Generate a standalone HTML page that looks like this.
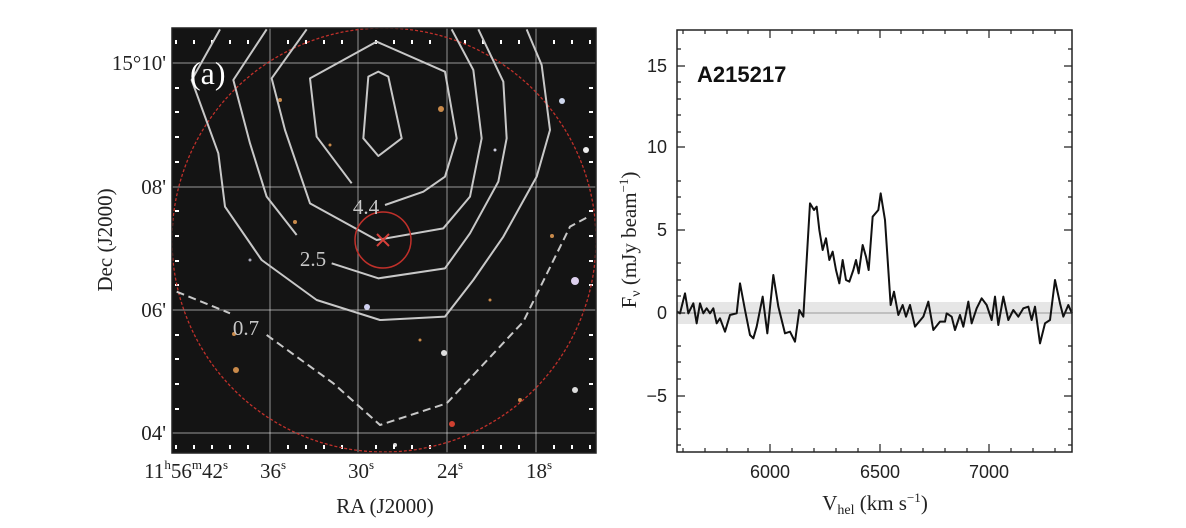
<!DOCTYPE html>
<html><head><meta charset="utf-8"><style>
body{margin:0;background:#fff;}
svg{display:block;}
.s{font-family:"Liberation Serif",serif;fill:#222;}
.n{font-family:"Liberation Sans",sans-serif;fill:#222;}
</style></head><body>
<svg width="1186" height="528" viewBox="0 0 1186 528" xmlns="http://www.w3.org/2000/svg">
<defs><clipPath id="cl"><rect x="172" y="28" width="424" height="425"/></clipPath></defs>
<rect x="172" y="28" width="424" height="425" fill="#141414"/>
<g clip-path="url(#cl)">
<g fill="#c98a4a">
<circle cx="441" cy="109" r="3"/><circle cx="452" cy="424" r="3" fill="#d04030"/><circle cx="444" cy="353" r="3" fill="#ddd"/><circle cx="562" cy="101" r="3" fill="#cfd8ee"/><circle cx="575" cy="281" r="4" fill="#ddd0ee"/><circle cx="586" cy="150" r="3" fill="#eee"/><circle cx="367" cy="307" r="3" fill="#cfd0ef"/><circle cx="236" cy="370" r="3"/><circle cx="234" cy="334" r="2"/><circle cx="295" cy="222" r="2"/><circle cx="575" cy="390" r="3" fill="#ddd"/><circle cx="552" cy="236" r="2"/><circle cx="280" cy="100" r="2"/><circle cx="330" cy="145" r="1.5"/><circle cx="495" cy="150" r="1.5" fill="#ccd"/><circle cx="520" cy="400" r="2"/><circle cx="395" cy="445" r="2" fill="#ddd"/><circle cx="420" cy="340" r="1.5"/><circle cx="490" cy="300" r="1.5"/><circle cx="250" cy="260" r="1.5" fill="#aab"/>
</g>
<g stroke="rgba(255,255,255,0.45)" stroke-width="1.2">
<line x1="270" y1="28" x2="270" y2="453"/><line x1="358" y1="28" x2="358" y2="453"/><line x1="447" y1="28" x2="447" y2="453"/><line x1="536" y1="28" x2="536" y2="453"/>
<line x1="172" y1="63" x2="596" y2="63"/><line x1="172" y1="187" x2="596" y2="187"/><line x1="172" y1="310" x2="596" y2="310"/><line x1="172" y1="433" x2="596" y2="433"/>
</g>
<g stroke="#fff" stroke-width="2">
<path d="M176,40v4M194,40v4M212,40v4M230,40v4M248,40v4M288,40v4M306,40v4M324,40v4M342,40v4M376,40v4M394,40v4M412,40v4M430,40v4M465,40v4M483,40v4M501,40v4M519,40v4M554,40v4M572,40v4M590,40v4"/>
<path d="M176,445v4M194,445v4M212,445v4M230,445v4M248,445v4M288,445v4M306,445v4M324,445v4M342,445v4M376,445v4M394,445v4M412,445v4M430,445v4M465,445v4M483,445v4M501,445v4M519,445v4M554,445v4M572,445v4M590,445v4"/>
<path d="M175,88h4M175,112h4M175,137h4M175,162h4M175,211h4M175,236h4M175,261h4M175,285h4M175,335h4M175,359h4M175,384h4M175,409h4"/>
<path d="M589,88h4M589,112h4M589,137h4M589,162h4M589,211h4M589,236h4M589,261h4M589,285h4M589,335h4M589,359h4M589,384h4M589,409h4"/>
</g>
<circle cx="384" cy="240" r="212" fill="none" stroke="#c0302a" stroke-width="1.3" stroke-dasharray="3,2"/>
<g transform="translate(170,20) scale(0.33333)" fill="none" stroke="#c8c8c8" stroke-width="6" stroke-linejoin="round">
<path d="M595,170 L625,155 L655,170 L695,355 L625,408 L580,355 Z"/>
<path d="M545,490 L440,350 L420,175 L620,65 L825,155 L860,355 L825,470 L760,515 L645,555"/>
<path d="M410,28 L305,175 L345,330 L420,550 L620,660 L820,625 L900,530 L935,355 L910,150 L845,28"/>
<path d="M290,28 L190,180 L240,370 L290,530 L380,645"/>
<path d="M485,730 L625,775 L825,745 L900,640 L985,485 L1010,355 L1000,185 L925,28"/>
<path d="M150,28 L65,180 L145,400 L165,560 L275,720 L440,840 L630,900 L825,890 L910,780 L1000,650 L1100,470 L1140,330 L1115,135 L1070,28"/>
<path d="M20,815 L180,880 M290,945 L490,1090 L630,1215 L830,1150 L1060,905 L1200,620 L1255,590" stroke-dasharray="24,14"/>
</g>
<circle cx="383" cy="240" r="28" fill="none" stroke="#c0302a" stroke-width="1.5"/>
<path d="M377,234 L389,246 M389,234 L377,246" stroke="#d8403a" stroke-width="2"/>
<text x="366" y="214" class="s" style="fill:#c8c8c8" font-size="21" text-anchor="middle">4.4</text>
<text x="313" y="266" class="s" style="fill:#c8c8c8" font-size="21" text-anchor="middle">2.5</text>
<text x="246" y="335" class="s" style="fill:#c8c8c8" font-size="21" text-anchor="middle">0.7</text>
<text x="190" y="84" class="s" style="fill:#fff" font-size="32">(a)</text>
</g>
<rect x="172" y="28" width="424" height="425" fill="none" stroke="#222" stroke-width="1.5"/>
<text class="s" font-size="21" text-anchor="end"><tspan x="166" y="70">15°10'</tspan><tspan x="166" y="194">08'</tspan><tspan x="166" y="317">06'</tspan><tspan x="166" y="440">04'</tspan></text>
<text class="s" font-size="21" x="228" y="478" text-anchor="end">11<tspan font-size="13" dy="-9">h</tspan><tspan dy="9">56</tspan><tspan font-size="13" dy="-9">m</tspan><tspan dy="9">42</tspan><tspan font-size="13" dy="-9">s</tspan></text>
<text class="s" font-size="21" x="273" y="478" text-anchor="middle">36<tspan font-size="13" dy="-9">s</tspan></text>
<text class="s" font-size="21" x="361" y="478" text-anchor="middle">30<tspan font-size="13" dy="-9">s</tspan></text>
<text class="s" font-size="21" x="450" y="478" text-anchor="middle">24<tspan font-size="13" dy="-9">s</tspan></text>
<text class="s" font-size="21" x="539" y="478" text-anchor="middle">18<tspan font-size="13" dy="-9">s</tspan></text>
<text x="385" y="513" class="s" font-size="21" text-anchor="middle">RA (J2000)</text>
<text transform="translate(112,240) rotate(-90)" class="s" font-size="21" text-anchor="middle">Dec (J2000)</text>

<!-- right panel -->
<rect x="677" y="302" width="395" height="22" fill="#e6e6e6"/>
<line x1="677" y1="313" x2="1072" y2="313" stroke="#999" stroke-width="1"/>
<g transform="translate(670,180) scale(0.33333)" fill="none" stroke="#111" stroke-width="6" stroke-linejoin="round">
<path d="M21,395 L30,400 L45,340 L55,400 L70,370 L80,430 L90,370 L100,400 L110,385 L120,400 L130,385 L140,430 L150,415 L165,455 L180,405 L200,400 L210,310 L225,390 L240,465 L250,475 L260,440 L278,350 L292,460 L310,285 L325,380 L345,460 L360,455 L375,485 L388,390 L400,410 L420,70 L432,90 L440,80 L448,150 L458,210 L468,175 L478,240 L488,215 L498,270 L508,310 L518,240 L528,300 L538,305 L550,270 L558,240 L566,280 L578,195 L588,230 L596,270 L608,110 L625,90 L632,40 L645,120 L662,375 L672,335 L685,405 L698,375 L708,410 L720,375 L735,440 L760,410 L775,365 L790,450 L810,425 L825,425 L830,400 L845,410 L855,450 L870,405 L880,440 L895,365 L905,430 L920,385 L935,355 L950,375 L965,420 L975,350 L985,435 L1000,350 L1015,420 L1030,390 L1045,410 L1060,385 L1075,380 L1085,420 L1095,380 L1110,490 L1125,430 L1140,420 L1155,300 L1170,370 L1180,410 L1195,375 L1206,400"/>
</g>
<g stroke="#222" stroke-width="1.2">
<path d="M677,66h8M677,147h8M677,230h8M677,313h8M677,396h8M1072,66h-8M1072,147h-8M1072,230h-8M1072,313h-8M1072,396h-8"/>
<path d="M677,99h4M677,115h4M677,132h4M677,82h4M677,49h4M677,181h4M677,197h4M677,214h4M677,263h4M677,280h4M677,296h4M677,346h4M677,362h4M677,379h4M677,412h4M677,429h4M677,445h4"/>
<path d="M1072,99h-4M1072,115h-4M1072,132h-4M1072,82h-4M1072,49h-4M1072,181h-4M1072,197h-4M1072,214h-4M1072,263h-4M1072,280h-4M1072,296h-4M1072,346h-4M1072,362h-4M1072,379h-4M1072,412h-4M1072,429h-4M1072,445h-4"/>
<path d="M770,452v-8M880,452v-8M989,452v-8M770,30v8M880,30v8M989,30v8"/>
<path d="M683,452v-4M705,452v-4M727,452v-4M748,452v-4M792,452v-4M814,452v-4M836,452v-4M858,452v-4M901,452v-4M923,452v-4M945,452v-4M967,452v-4M1011,452v-4M1033,452v-4M1055,452v-4"/>
<path d="M683,30v4M705,30v4M727,30v4M748,30v4M792,30v4M814,30v4M836,30v4M858,30v4M901,30v4M923,30v4M945,30v4M967,30v4M1011,30v4M1033,30v4M1055,30v4"/>
</g>
<rect x="677" y="30" width="395" height="422" fill="none" stroke="#222" stroke-width="1.5"/>
<text class="n" font-size="18" text-anchor="end"><tspan x="667" y="72">15</tspan><tspan x="667" y="153">10</tspan><tspan x="667" y="236">5</tspan><tspan x="667" y="319">0</tspan><tspan x="667" y="402">−5</tspan></text>
<text class="n" font-size="18" y="478" text-anchor="middle"><tspan x="770">6000</tspan><tspan x="880">6500</tspan><tspan x="989">7000</tspan></text>
<text x="697" y="82" class="n" font-size="22" font-weight="bold" style="fill:#111">A215217</text>
<text transform="translate(636,240) rotate(-90)" class="s" font-size="21" text-anchor="middle">F<tspan font-size="14" dy="4">ν</tspan><tspan dy="-4"> (mJy beam</tspan><tspan font-size="13" dy="-8">−1</tspan><tspan dy="8">)</tspan></text>
<text x="875" y="510" class="s" font-size="21" text-anchor="middle">V<tspan font-size="14" dy="4">hel</tspan><tspan dy="-4"> (km s</tspan><tspan font-size="13" dy="-8">−1</tspan><tspan dy="8">)</tspan></text>
</svg>
</body></html>
